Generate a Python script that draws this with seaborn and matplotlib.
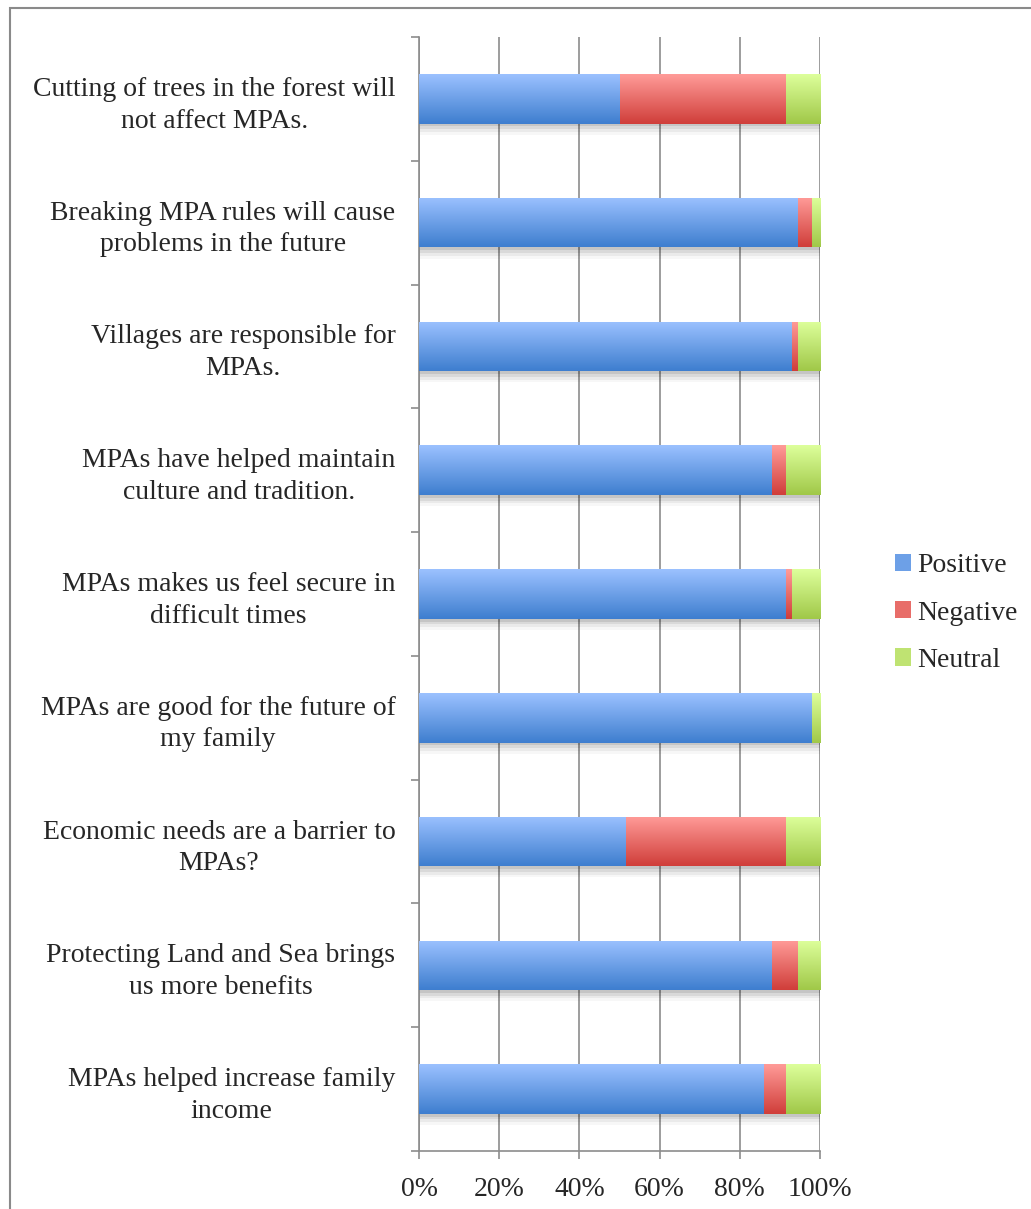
import numpy as np
import pandas as pd
import matplotlib
matplotlib.use("Agg")
import matplotlib.pyplot as plt
import matplotlib.patheffects as pe
from matplotlib.patches import Patch, Rectangle
from matplotlib.ticker import FixedLocator, PercentFormatter
from matplotlib.colors import to_rgb
import seaborn as sns

# survey statements, top to bottom
statements = [
    "Cutting of trees in the forest will\nnot affect MPAs.",
    "Breaking MPA rules will cause\nproblems in the future",
    "Villages are responsible for\nMPAs.",
    "MPAs have helped maintain\nculture and tradition.",
    "MPAs makes us feel secure in\ndifficult times",
    "MPAs are good for the future of\nmy family",
    "Economic needs are a barrier to\nMPAs?",
    "Protecting Land and Sea brings\nus more benefits",
    "MPAs helped increase family\nincome",
]
# percentages
positive = [50.0, 94.4, 92.8, 87.8, 91.3, 98.0, 51.5, 87.8, 86.0]
negative = [41.3, 3.6, 1.7, 3.5, 1.5, 0.0, 39.8, 6.7, 5.3]
neutral = [8.7, 2.0, 5.5, 8.7, 7.2, 2.0, 8.7, 5.5, 8.7]

series_names = ["Positive", "Negative", "Neutral"]
# (top, bottom) gradient colours per series
grad = {
    "Positive": ("#9bc1ff", "#3e7ecf"),
    "Negative": ("#ff9b98", "#d03e3a"),
    "Neutral": ("#ddff9b", "#a0c848"),
}

df = pd.DataFrame({"statement": statements, "Positive": positive,
                   "Negative": negative, "Neutral": neutral})
df["cum_pos"] = df["Positive"]
df["cum_neg"] = df["Positive"] + df["Negative"]
df["cum_all"] = df["cum_neg"] + df["Neutral"]

sns.set_style("white")
plt.rcParams["font.family"] = ["Liberation Serif", "DejaVu Serif"]

fig = plt.figure(figsize=(10.31, 12.09), dpi=100)
ax = fig.add_axes([419 / 1031, 1 - 1151 / 1209, 401 / 1031, (1151 - 37) / 1209])

grid_col = "#8c8c8c"
t = np.linspace(0, 1, 64)[:, None]
layers = [("cum_all", "Neutral", 3), ("cum_neg", "Negative", 4), ("cum_pos", "Positive", 5)]
for col, name, z in layers:
    n0 = len(ax.patches)
    sns.barplot(data=df, x=col, y="statement", orient="h", color=grad[name][1],
                width=0.4, linewidth=0, ax=ax, zorder=z)
    top, bot = np.array(to_rgb(grad[name][0])), np.array(to_rgb(grad[name][1]))
    img = (top * (1 - t) + bot * t)[:, None, :]
    for p in ax.patches[n0:]:
        p.set_zorder(z)
        if name == "Neutral":
            # soft drop shadow below the whole bar
            p.set_path_effects([
                pe.SimplePatchShadow(offset=(1, -8), shadow_rgbFace="#000000", alpha=0.03),
                pe.SimplePatchShadow(offset=(1, -6), shadow_rgbFace="#000000", alpha=0.05),
                pe.SimplePatchShadow(offset=(1, -4), shadow_rgbFace="#000000", alpha=0.07),
                pe.SimplePatchShadow(offset=(1, -2), shadow_rgbFace="#000000", alpha=0.09),
                pe.Normal()])
        x0, y0 = p.get_x(), p.get_y()
        w, h = p.get_width(), p.get_height()
        if w <= 0:
            continue
        im = ax.imshow(img, extent=(x0, x0 + w, y0 + h, y0), origin="upper",
                       aspect="auto", zorder=z + 0.5, interpolation="bilinear")
        im.set_clip_path(p)

ax.set_xlim(0, 100)
ax.set_ylim(len(statements) - 0.5, -0.5)
ax.set_xlabel("")
ax.set_ylabel("")

# gridlines
ax.set_xticks([0, 20, 40, 60, 80, 100])
ax.xaxis.set_major_formatter(PercentFormatter(100, decimals=0))
ax.grid(axis="x", color=grid_col, linewidth=1.2)
ax.set_axisbelow(True)

for s in ["top", "right"]:
    ax.spines[s].set_visible(False)
for s in ["left", "bottom"]:
    ax.spines[s].set_color(grid_col)
    ax.spines[s].set_linewidth(1.2)

ax.tick_params(axis="x", which="major", direction="out", length=6, width=1.2,
               color=grid_col, pad=13, labelsize=20, bottom=True)
ax.tick_params(axis="y", which="major", length=0, pad=17, labelsize=20)
ax.yaxis.set_minor_locator(FixedLocator(np.arange(-0.5, len(statements), 1.0)))
ax.tick_params(axis="y", which="minor", direction="out", length=6, width=1.2,
               color=grid_col, left=True)
for lab in ax.get_yticklabels():
    lab.set_multialignment("center")
    lab.set_linespacing(1.35)

handles = [Patch(facecolor=(np.array(to_rgb(grad[n][0])) + np.array(to_rgb(grad[n][1]))) / 2,
                 edgecolor="none") for n in series_names]
fig.legend(handles, series_names, loc="center left",
           bbox_to_anchor=(895 / 1031, 1 - 613 / 1209), frameon=False, borderpad=0,
           borderaxespad=0, fontsize=20, handlelength=0.58, handleheight=0.58,
           handletextpad=0.22, labelspacing=0.8)

# outer chart frame (cut off at right and bottom)
fig.add_artist(Rectangle((10 / 1031, -0.05), 1.2, 1.05 - 8 / 1209, transform=fig.transFigure,
                         fill=False, edgecolor="#8a8a8a", linewidth=1.5))

fig.savefig("out.png", dpi=100, facecolor="white")
